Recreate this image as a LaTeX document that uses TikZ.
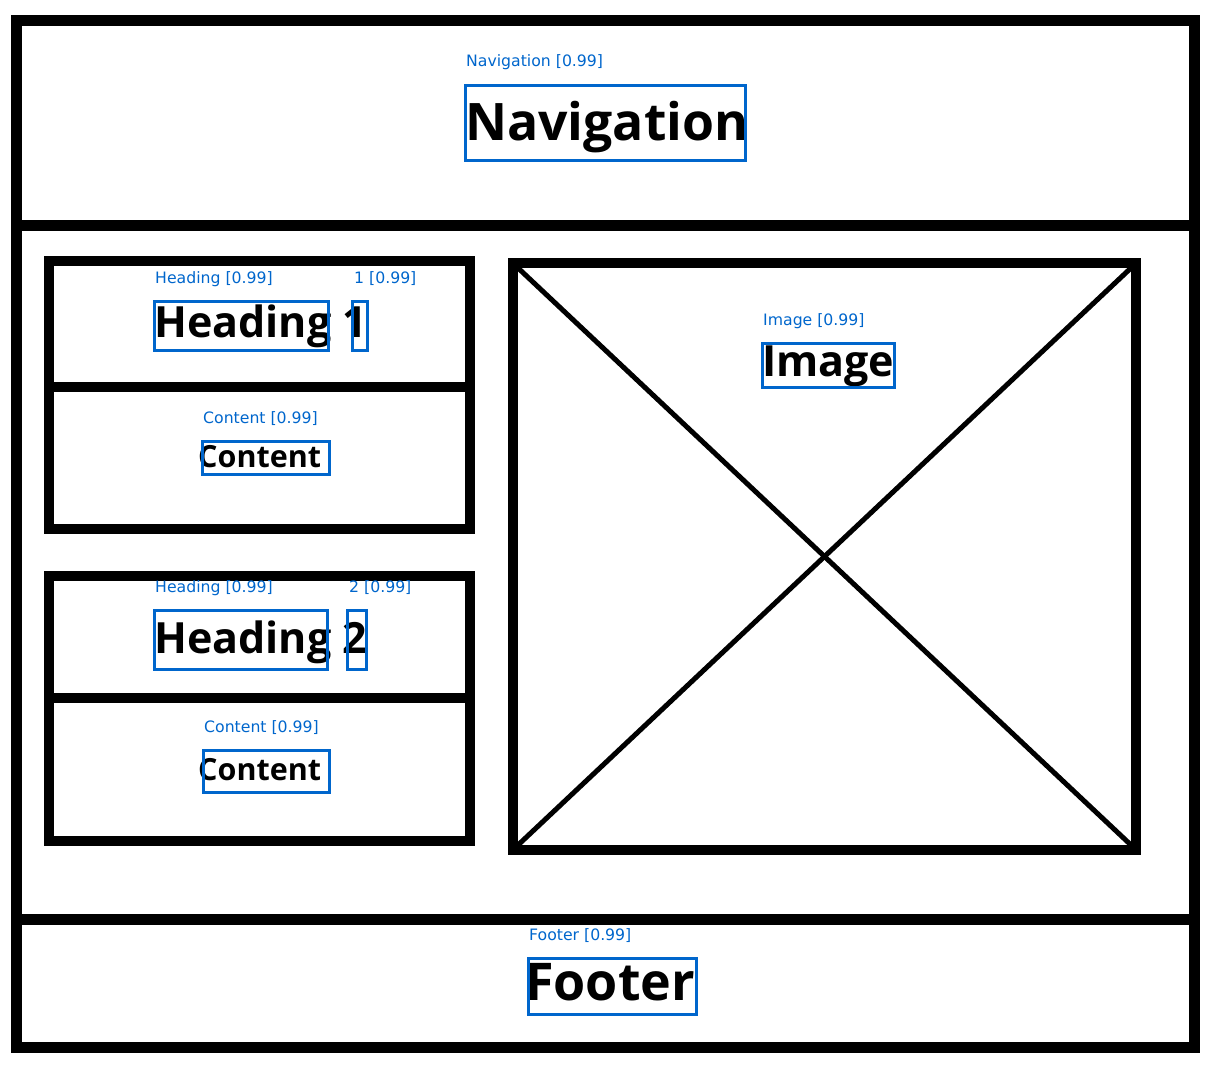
\documentclass[tikz,border=0pt]{standalone}
\usepackage{fontspec}
\setmainfont{Open Sans}
\newfontfamily\detfont{DejaVu Sans}
\usetikzlibrary{positioning}

\definecolor{detblue}{RGB}{0,102,204}

\begin{document}
\begin{tikzpicture}[x=1pt, y=-1pt,
    % --- Styles ---
    frameLine/.style={
      draw=black,
      line width=11pt
    },
    panelLine/.style={
      draw=black,
      line width=10pt
    },
    crossLine/.style={
      draw=black,
      line width=5pt
    },
    bigText/.style={
      anchor=base west,
      inner sep=0pt,
      font=\bfseries
    },
    detBox/.style={
      draw=detblue,
      line width=3pt
    },
    detText/.style={
      anchor=base west,
      inner sep=0pt,
      text=detblue,
      font=\detfont\fontsize{15.7}{18}\selectfont
    }
]
\useasboundingbox (0,0) rectangle (1214,1070);

%=====================
% Page frame
%=====================
\draw[frameLine] (16.5,20.5) rectangle (1194.5,1047.5);
\draw[frameLine] (16.5,225.5) -- (1194.5,225.5);
\draw[frameLine] (16.5,919.5) -- (1194.5,919.5);

%=====================
% Navigation
%=====================
\node[bigText, font=\bfseries\fontsize{51.7}{60}\selectfont] (navText) at (465,140) {Navigation};
\draw[detBox] (465,86) rectangle (745,160);
\node[detText] (navLabel) at (466,67) {Navigation [0.99]};

%=====================
% Panel 1
%=====================
\draw[panelLine] (49,261) rectangle (470,529);
\draw[panelLine] (49,386.5) -- (470,386.5);
\node[bigText, font=\bfseries\fontsize{43}{48}\selectfont] (headA) at (154,337) {Heading 1};
\draw[detBox] (154,301) rectangle (328,350);
\draw[detBox] (352,301) rectangle (367,350);
\node[detText] (headLabelA) at (155,283) {Heading [0.99]};
\node[detText] (numLabelA) at (354,283) {1 [0.99]};
\node[bigText, font=\bfseries\fontsize{30.5}{36}\selectfont] (contA) at (198,467) {Content};
\draw[detBox] (202,441) rectangle (329,474);
\node[detText] (contLabelA) at (203,423) {Content [0.99]};

%=====================
% Panel 2
%=====================
\draw[panelLine] (49,576) rectangle (470,841);
\draw[panelLine] (49,698) -- (470,698);
\node[bigText, font=\bfseries\fontsize{43}{48}\selectfont] (headB) at (154,653) {Heading 2};
\draw[detBox] (154,610) rectangle (327,669);
\draw[detBox] (347,610) rectangle (366,669);
\node[detText] (headLabelB) at (155,592) {Heading [0.99]};
\node[detText] (numLabelB) at (349,592) {2 [0.99]};
\node[bigText, font=\bfseries\fontsize{30.5}{36}\selectfont] (contB) at (198,780) {Content};
\draw[detBox] (203,750) rectangle (329,792);
\node[detText] (contLabelB) at (204,732) {Content [0.99]};

%=====================
% Image placeholder
%=====================
\draw[panelLine] (513,263) rectangle (1136,850);
\draw[crossLine] (517,267) -- (1132,846);
\draw[crossLine] (517,846) -- (1132,267);
\node[bigText, font=\bfseries\fontsize{43}{48}\selectfont] (imgText) at (762,376) {Image};
\draw[detBox] (762,343) rectangle (894,387);
\node[detText] (imgLabel) at (763,325) {Image [0.99]};

%=====================
% Footer
%=====================
\node[bigText, font=\bfseries\fontsize{52}{60}\selectfont] (footText) at (525,1000) {Footer};
\draw[detBox] (528,958) rectangle (696,1014);
\node[detText] (footLabel) at (529,940) {Footer [0.99]};

\end{tikzpicture}
\end{document}
